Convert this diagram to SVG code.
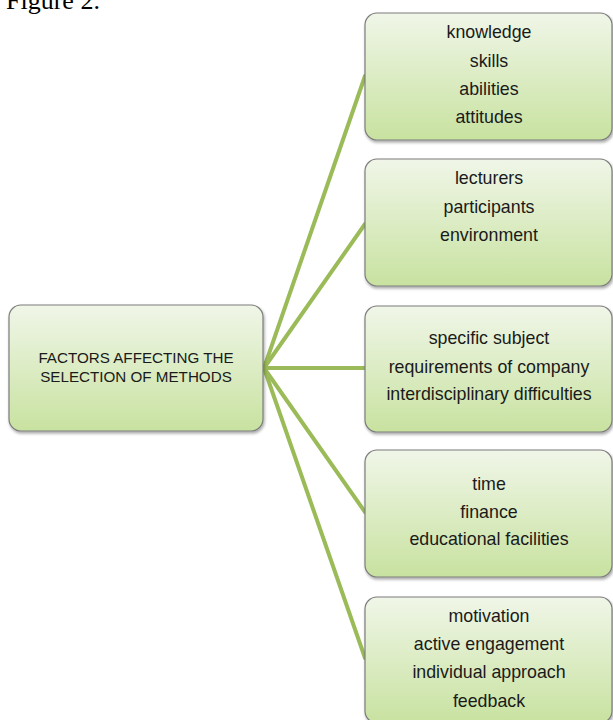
<svg xmlns="http://www.w3.org/2000/svg" width="613" height="720" viewBox="0 0 613 720">
<defs>
  <linearGradient id="g" x1="0" y1="0" x2="0" y2="1">
    <stop offset="0" stop-color="#f0f6e8"/>
    <stop offset="1" stop-color="#c8e2a0"/>
  </linearGradient>
  <filter id="sh" x="-5%" y="-5%" width="112%" height="115%">
    <feGaussianBlur in="SourceAlpha" stdDeviation="1.5"/>
    <feOffset dx="1" dy="2" result="b"/>
    <feComponentTransfer><feFuncA type="linear" slope="0.35"/></feComponentTransfer>
    <feMerge><feMergeNode/><feMergeNode in="SourceGraphic"/></feMerge>
  </filter>
</defs>
<style>
  .box { fill: url(#g); stroke: #7d7d7d; stroke-width: 1.2; filter: url(#sh); }
  .t { font-family: "Liberation Sans", Arial, sans-serif; font-size: 17.8px; fill: #1a1a1a; text-anchor: middle; }
  .c { font-family: "Liberation Sans", Arial, sans-serif; font-size: 15.2px; fill: #1a1a1a; text-anchor: middle; }
  .ln { stroke: #9bbb59; stroke-width: 4; fill: none; stroke-linecap: round; }
</style>
<rect width="613" height="720" fill="#ffffff"/>
<text x="6" y="9" font-family="'Liberation Serif', 'Times New Roman', serif" font-size="26" fill="#000">Figure 2.</text>

<g id="connectors">
  <line class="ln" x1="264" y1="368" x2="365" y2="76"/>
  <line class="ln" x1="264" y1="368" x2="365" y2="224"/>
  <line class="ln" x1="264" y1="368" x2="365" y2="368"/>
  <line class="ln" x1="264" y1="368" x2="365" y2="512"/>
  <line class="ln" x1="264" y1="368" x2="365" y2="658"/>
</g>

<g id="center">
  <rect class="box" x="9" y="305" width="254" height="126" rx="12"/>
  <text class="c" x="136" y="363">FACTORS AFFECTING THE</text>
  <text class="c" x="136" y="382">SELECTION OF METHODS</text>
</g>

<g id="n1">
  <rect class="box" x="365" y="13" width="247" height="127" rx="12"/>
  <text class="t" x="489" y="38">knowledge</text>
  <text class="t" x="489" y="67">skills</text>
  <text class="t" x="489" y="95">abilities</text>
  <text class="t" x="489" y="123">attitudes</text>
</g>

<g id="n2">
  <rect class="box" x="365" y="159" width="247" height="127" rx="12"/>
  <text class="t" x="489" y="184">lecturers</text>
  <text class="t" x="489" y="213">participants</text>
  <text class="t" x="489" y="241">environment</text>
</g>

<g id="n3">
  <rect class="box" x="365" y="306" width="247" height="126" rx="12"/>
  <text class="t" x="489" y="344">specific subject</text>
  <text class="t" x="489" y="373">requirements of company</text>
  <text class="t" x="489" y="400">interdisciplinary difficulties</text>
</g>

<g id="n4">
  <rect class="box" x="365" y="450" width="247" height="127" rx="12"/>
  <text class="t" x="489" y="490">time</text>
  <text class="t" x="489" y="518">finance</text>
  <text class="t" x="489" y="545">educational facilities</text>
</g>

<g id="n5">
  <rect class="box" x="365" y="597" width="247" height="126" rx="12"/>
  <text class="t" x="489" y="622">motivation</text>
  <text class="t" x="489" y="650">active engagement</text>
  <text class="t" x="489" y="678">individual approach</text>
  <text class="t" x="489" y="707">feedback</text>
</g>
</svg>
